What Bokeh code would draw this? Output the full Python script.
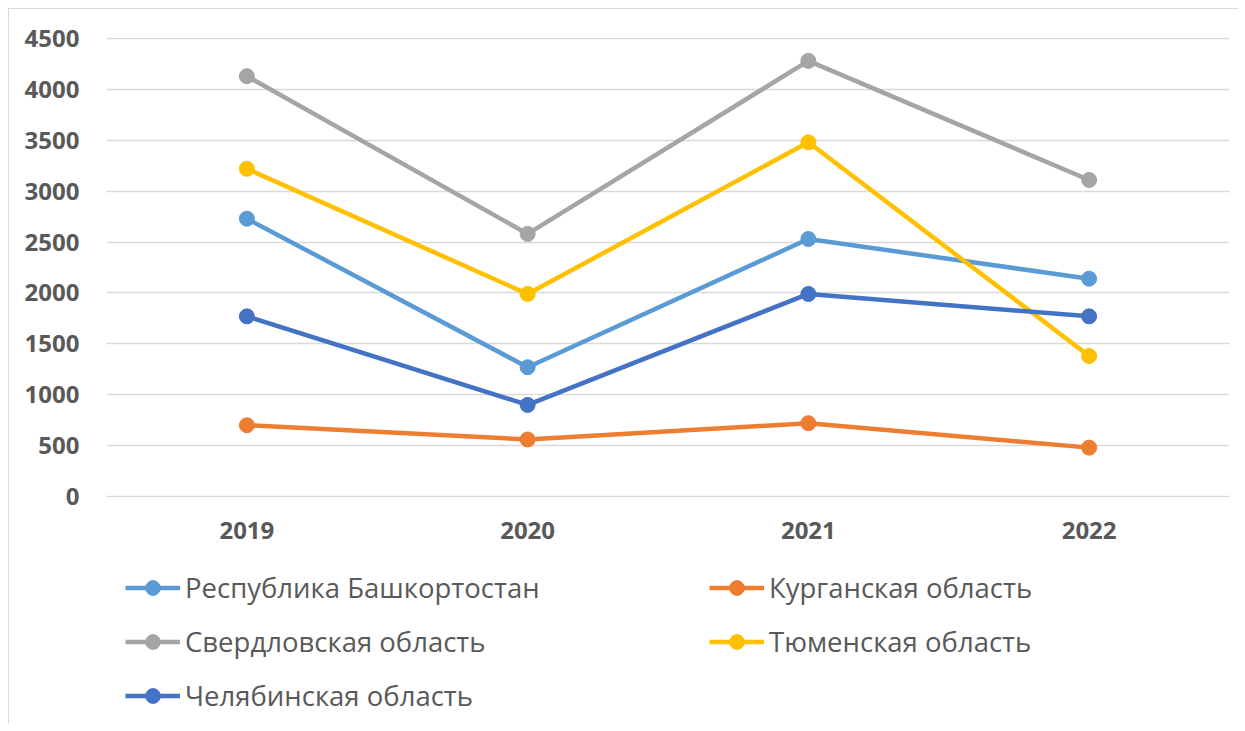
from bokeh.plotting import figure
from bokeh.layouts import column
from bokeh.models import Range1d, FactorRange, Legend, LegendItem, SingleIntervalTicker
from bokeh.embed import file_html
from bokeh.resources import INLINE

years = ["2019", "2020", "2021", "2022"]
bashkortostan = [2730, 1270, 2530, 2140]
kurgan = [700, 560, 720, 480]
sverdlovsk = [4130, 2580, 4280, 3110]
tyumen = [3220, 1990, 3480, 1380]
chelyabinsk = [1770, 900, 1990, 1770]

series = [
    ("Республика Башкортостан", bashkortostan, "#5B9BD5"),
    ("Курганская область", kurgan, "#ED7D31"),
    ("Свердловская область", sverdlovsk, "#A5A5A5"),
    ("Тюменская область", tyumen, "#FFC000"),
    ("Челябинская область", chelyabinsk, "#4472C4"),
]

TEXT = "#595959"
GRID = "#D9D9D9"

p = figure(
    x_range=FactorRange(*years), y_range=Range1d(-10, 4510),
    width=1229, height=548,
    min_border_left=97, min_border_right=9, min_border_top=28, min_border_bottom=60,
    output_backend="svg", toolbar_location=None,
    background_fill_color="white", border_fill_color="white",
)
p.outline_line_color = None
p.xgrid.grid_line_color = None
p.ygrid.grid_line_color = GRID
p.ygrid.grid_line_width = 1.5
p.yaxis.ticker = SingleIntervalTicker(interval=500)

for ax in (p.xaxis[0], p.yaxis[0]):
    ax.axis_line_color = None
    ax.major_tick_line_color = None
    ax.minor_tick_line_color = None
    ax.major_label_text_font = "Open Sans"
    ax.major_label_text_font_style = "bold"
    ax.major_label_text_font_size = "24px"
    ax.major_label_text_color = TEXT
p.yaxis.major_label_standoff = 21
p.xaxis.major_label_standoff = 18

for name, vals, color in series:
    p.line(years, vals, line_color=color, line_width=4.5)
    p.scatter(years, vals, size=15, fill_color=color, line_color=color)

# legend panel below the chart (its own renderers sit outside its visible range)
lg = figure(
    width=1229, height=166, x_range=FactorRange(*years), y_range=Range1d(-20000, -19000),
    min_border=0, output_backend="svg", toolbar_location=None,
    background_fill_color="white", border_fill_color="white",
)
lg.outline_line_color = None
lg.axis.visible = False
lg.grid.grid_line_color = None

items = []
for name, vals, color in series:
    lr = lg.line(years, vals, line_color=color, line_width=4.5)
    sr = lg.scatter(years, vals, size=13, fill_color=color, line_color=color)
    items.append(LegendItem(label=name, renderers=[lr, sr]))

legend = Legend(
    items=items, orientation="horizontal", ncols=2,
    location=(19, 9),
    glyph_width=55, glyph_height=37, label_height=37, label_width=507,
    label_standoff=5, spacing=17, padding=0, margin=0,
    label_text_font="Open Sans", label_text_font_size="27.5px", label_text_color=TEXT,
    border_line_color=None, background_fill_alpha=0,
)
lg.add_layout(legend, "center")

layout = column(p, lg, spacing=0)
layout.styles = {"margin-left": "8px", "margin-top": "8px",
                 "border-top": "1px solid #D9D9D9", "border-left": "1px solid #D9D9D9"}

open("out.html", "w").write(file_html(layout, INLINE))
